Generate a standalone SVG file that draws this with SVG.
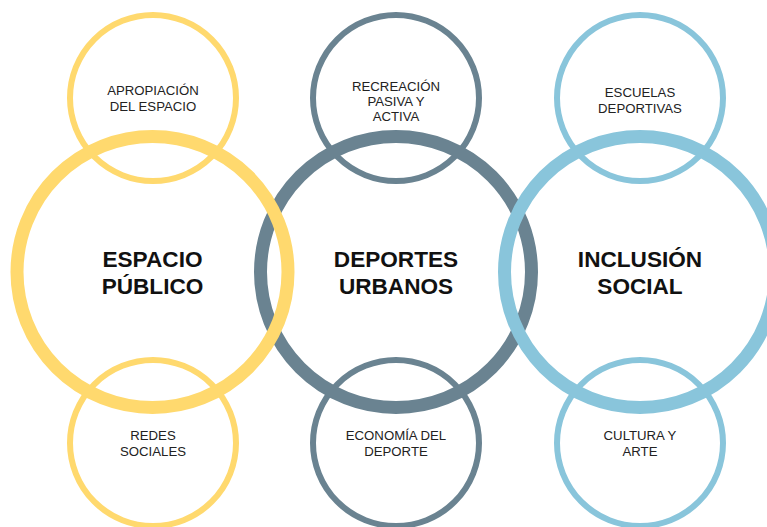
<svg xmlns="http://www.w3.org/2000/svg" width="767" height="527" viewBox="0 0 767 527">
<style>
.s{fill:none;stroke-width:6}
.b{fill:none;stroke-width:13}
.y{stroke:#FFD96E}
.g{stroke:#6A8391}
.c{stroke:#89C5DB}
.t{font-family:"Liberation Sans",Arial,sans-serif;font-size:13.2px;fill:#222;text-anchor:middle}
.h{font-family:"Liberation Sans",Arial,sans-serif;font-size:22.6px;font-weight:bold;fill:#111;text-anchor:middle}
</style>
<rect width="767" height="527" fill="#fff"/>
<g id="recreacion"><circle class="s g" cx="396" cy="98" r="83"/></g>
<g id="economia"><circle class="s g" cx="396" cy="443" r="83"/></g>
<g id="deportes-urbanos"><circle class="b g" cx="396" cy="272" r="135.5"/></g>
<g id="apropiacion"><circle class="s y" cx="153" cy="98" r="83"/></g>
<g id="redes"><circle class="s y" cx="153" cy="443" r="83"/></g>
<g id="espacio-publico"><circle class="b y" cx="152.5" cy="272" r="135.5"/></g>
<g id="escuelas"><circle class="s c" cx="640" cy="98" r="83"/></g>
<g id="cultura"><circle class="s c" cx="640" cy="443" r="83"/></g>
<g id="inclusion-social"><circle class="b c" cx="640" cy="272" r="135.5"/></g>
<g id="labels">
<text class="h" x="152.5" y="267">ESPACIO</text>
<text class="h" x="152.5" y="294">PÚBLICO</text>
<text class="h" x="396" y="267">DEPORTES</text>
<text class="h" x="396" y="294">URBANOS</text>
<text class="h" x="640" y="267">INCLUSIÓN</text>
<text class="h" x="640" y="294">SOCIAL</text>
<text class="t" x="153" y="95">APROPIACIÓN</text>
<text class="t" x="153" y="111">DEL ESPACIO</text>
<text class="t" x="396" y="91">RECREACIÓN</text>
<text class="t" x="396" y="106">PASIVA Y</text>
<text class="t" x="396" y="121">ACTIVA</text>
<text class="t" x="640" y="97">ESCUELAS</text>
<text class="t" x="640" y="113">DEPORTIVAS</text>
<text class="t" x="153" y="440">REDES</text>
<text class="t" x="153" y="456">SOCIALES</text>
<text class="t" x="396" y="440">ECONOMÍA DEL</text>
<text class="t" x="396" y="456">DEPORTE</text>
<text class="t" x="640" y="440">CULTURA Y</text>
<text class="t" x="640" y="456">ARTE</text>
</g>
<g id="connectors"/>
</svg>
